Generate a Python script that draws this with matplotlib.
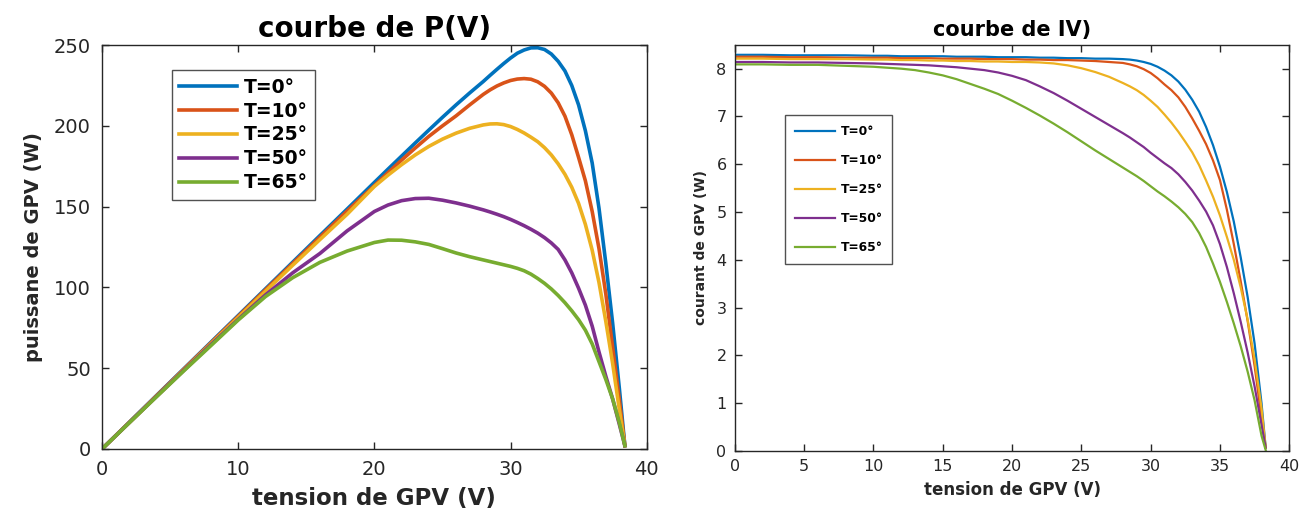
import matplotlib
matplotlib.use("Agg")
import matplotlib.pyplot as plt

plt.rcParams['font.family'] = ['DejaVu Sans']

# ---- Data -------------------------------------------------------------
labels = ["T=0°", "T=10°", "T=25°", "T=50°", "T=65°"]
colors = ["#0072BD", "#D95319", "#EDB120", "#7E2F8E", "#77AC30"]

# Power (W) vs voltage (V)
v_p = [0, 2, 4, 6, 8, 10, 12, 14, 16, 18, 20,
       21, 22, 23, 24, 25, 26, 27, 28,
       28.5, 29, 29.5, 30, 30.5, 31, 31.5, 32, 32.5, 33, 33.5,
       34, 34.5, 35, 35.5, 36, 36.5, 37, 37.5, 38, 38.4]
p_t0 = [0, 16.5, 33.1, 49.6, 66.1, 82.6, 99.1, 115.6, 132.1, 148.5, 165,
        173.2, 181.3, 189.4, 197.4, 205.3, 213, 220.4, 227.5,
        231.3, 235, 238.6, 242, 245, 247, 248.3, 248.4, 247.3, 244.5, 240,
        234, 225, 213, 197, 177, 149, 115, 78, 37, 2]
p_t10 = [0, 16.4, 32.9, 49.3, 65.7, 82.1, 98.5, 114.8, 131.1, 147.3, 163,
         171, 178.8, 186.3, 193.5, 200, 206.2, 213, 219.5,
         222.3, 224.7, 226.6, 228.1, 229, 229.3, 228.9, 227.3, 224.5, 220.3, 214.3,
         206, 194.5, 180.5, 166, 147, 124, 96, 63, 30, 2]
p_t25 = [0, 16.3, 32.6, 48.9, 65.2, 81.4, 97.6, 113.7, 129.6, 145.3, 162.5,
         169.5, 176, 182, 187.3, 191.8, 195.5, 198.5, 200.6,
         201.2, 201.3, 200.8, 199.6, 197.8, 195.6, 193, 190.2, 186.5, 182, 176.5,
         170, 162, 152, 139, 123, 103, 79, 53, 24, 2]
p_t50 = [0, 16.3, 32.5, 48.6, 64.6, 80.2, 95.3, 109, 121, 135, 147,
         151, 153.7, 155, 155.2, 154, 152.3, 150.3, 148,
         146.7, 145.3, 143.8, 142.1, 140.2, 138.2, 136, 133.6, 130.8, 127.5, 123.5,
         117, 109, 99.5, 89, 76, 60, 45, 31, 15, 2]
p_t65 = [0, 16.2, 32.3, 48.3, 64, 79.8, 94.3, 106, 115.5, 122.5, 127.8,
         129.3, 129.2, 128.2, 126.6, 124, 121.3, 119, 117,
         116, 115, 114, 113, 111.8, 110.3, 108.2, 105.5, 102.5, 99, 95,
         90.5, 85.5, 80, 73.5, 65, 54, 43, 31, 16, 2]

# Current (A) vs voltage (V)
v_i = [0, 2, 4, 6, 8, 10, 11, 12, 13, 14, 15, 16, 17, 18, 19, 20,
       21, 22, 23, 24, 25, 26, 27, 28, 28.5, 29, 29.5, 30, 30.5, 31, 31.5,
       32, 32.5, 33, 33.5, 34, 34.5, 35, 35.5, 36, 36.5, 37, 37.5, 38, 38.3]
i_t0 = [8.29, 8.29, 8.28, 8.28, 8.28, 8.27, 8.27, 8.26, 8.26, 8.26, 8.26,
        8.25, 8.25, 8.25, 8.24, 8.24,
        8.24, 8.23, 8.23, 8.22, 8.22, 8.21, 8.21, 8.20, 8.19, 8.17, 8.14,
        8.10, 8.04, 7.96, 7.86,
        7.73, 7.56, 7.35, 7.10, 6.78, 6.40, 5.95, 5.42, 4.80, 4.05, 3.22,
        2.25, 1.00, 0.07]
i_t10 = [8.25, 8.25, 8.24, 8.24, 8.23, 8.23, 8.23, 8.22, 8.22, 8.22, 8.21,
         8.21, 8.21, 8.20, 8.20, 8.20,
         8.19, 8.19, 8.18, 8.18, 8.17, 8.16, 8.14, 8.12, 8.09, 8.05, 7.99,
         7.91, 7.80, 7.67, 7.55,
         7.40, 7.20, 6.96, 6.70, 6.42, 6.08, 5.67, 5.05, 4.33, 3.55, 2.72,
         1.78, 0.70, 0.07]
i_t25 = [8.21, 8.21, 8.20, 8.20, 8.20, 8.19, 8.19, 8.18, 8.18, 8.17, 8.17,
         8.16, 8.16, 8.15, 8.15, 8.14,
         8.14, 8.13, 8.11, 8.07, 8.01, 7.93, 7.83, 7.70, 7.63, 7.55, 7.45,
         7.33, 7.20, 7.04, 6.87,
         6.68, 6.47, 6.25, 5.98, 5.66, 5.32, 4.93, 4.48, 4.00, 3.42, 2.75,
         1.92, 0.90, 0.07]
i_t50 = [8.14, 8.14, 8.13, 8.13, 8.12, 8.11, 8.10, 8.09, 8.08, 8.07, 8.05,
         8.03, 8.00, 7.97, 7.92, 7.85,
         7.76, 7.63, 7.49, 7.33, 7.16, 6.99, 6.82, 6.65, 6.56, 6.46, 6.36,
         6.24, 6.13, 6.02, 5.92,
         5.79, 5.63, 5.45, 5.24, 5.01, 4.72, 4.33, 3.85, 3.30, 2.70, 2.06,
         1.35, 0.55, 0.07]
i_t65 = [8.09, 8.09, 8.08, 8.08, 8.06, 8.04, 8.02, 8.00, 7.97, 7.92, 7.86,
         7.78, 7.68, 7.58, 7.47, 7.33,
         7.18, 7.02, 6.85, 6.67, 6.48, 6.29, 6.11, 5.93, 5.84, 5.75, 5.65,
         5.54, 5.43, 5.33, 5.22,
         5.10, 4.96, 4.79, 4.56, 4.27, 3.92, 3.54, 3.12, 2.67, 2.19, 1.66,
         1.06, 0.32, 0.02]

p_curves = [p_t0, p_t10, p_t25, p_t50, p_t65]
i_curves = [i_t0, i_t10, i_t25, i_t50, i_t65]

p_xticks = [0, 10, 20, 30, 40]
p_yticks = [0, 50, 100, 150, 200, 250]
i_xticks = [0, 5, 10, 15, 20, 25, 30, 35, 40]
i_yticks = [0, 1, 2, 3, 4, 5, 6, 7, 8]

# ---- Figure -----------------------------------------------------------
fig = plt.figure(figsize=(13.09, 5.13), dpi=100)
ax1 = fig.add_axes([0.078, 0.125, 0.416, 0.787])
ax2 = fig.add_axes([0.5614, 0.1209, 0.4235, 0.7918])

dark = "#262626"


def style(ax, labelsize, pad, length):
    for s in ax.spines.values():
        s.set_color(dark)
        s.set_linewidth(1.0)
    ax.tick_params(direction="in", top=True, right=True, length=length,
                   width=1.0, colors=dark, labelsize=labelsize, pad=pad,
                   labelcolor=dark)


# Left: P(V)
for v, lab, col in zip(p_curves, labels, colors):
    ax1.plot(v_p, v, color=col, lw=2.6, label=lab, solid_joinstyle="round")
ax1.set_xlim(0, 40)
ax1.set_ylim(0, 250)
ax1.set_xticks(p_xticks)
ax1.set_yticks(p_yticks)
style(ax1, 14, 8, 5)
ax1.set_title("courbe de P(V)", fontsize=20, fontweight="bold", pad=6)
ax1.set_xlabel("tension de GPV (V)", fontsize=16.5, fontweight="bold",
               color=dark, labelpad=6)
ax1.set_ylabel("puissane de GPV (W)", fontsize=14, fontweight="bold",
               color=dark, labelpad=8)
leg1 = ax1.legend(loc="upper left", bbox_to_anchor=(0.128, 0.938),
                  borderaxespad=0, fancybox=False, frameon=True,
                  edgecolor=dark, handlelength=3.1,
                  handletextpad=0.35, labelspacing=0.26, borderpad=0.4,
                  prop={"weight": "bold", "size": 13.5})
leg1.get_frame().set_linewidth(1.0)

# Right: I(V)
for v, lab, col in zip(i_curves, labels, colors):
    ax2.plot(v_i, v, color=col, lw=1.6, label=lab, solid_joinstyle="round")
ax2.set_xlim(0, 40)
ax2.set_ylim(0, 8.5)
ax2.set_xticks(i_xticks)
ax2.set_yticks(i_yticks)
style(ax2, 11.5, 6, 5)
ax2.set_title("courbe de IV)", fontsize=15, fontweight="bold", pad=6)
ax2.set_xlabel("tension de GPV (V)", fontsize=12, fontweight="bold",
               color=dark, labelpad=5)
ax2.set_ylabel("courant de GPV (W)", fontsize=10, fontweight="bold",
               color=dark, labelpad=6)
leg2 = ax2.legend(loc="upper left", bbox_to_anchor=(0.09, 0.826),
                  borderaxespad=0, fancybox=False, frameon=True,
                  edgecolor=dark, handlelength=3.3, handletextpad=0.45,
                  labelspacing=1.3, borderpad=0.8,
                  prop={"weight": "bold", "size": 8.8})
leg2.get_frame().set_linewidth(1.0)

fig.savefig("out.png", dpi=100, facecolor="white")
